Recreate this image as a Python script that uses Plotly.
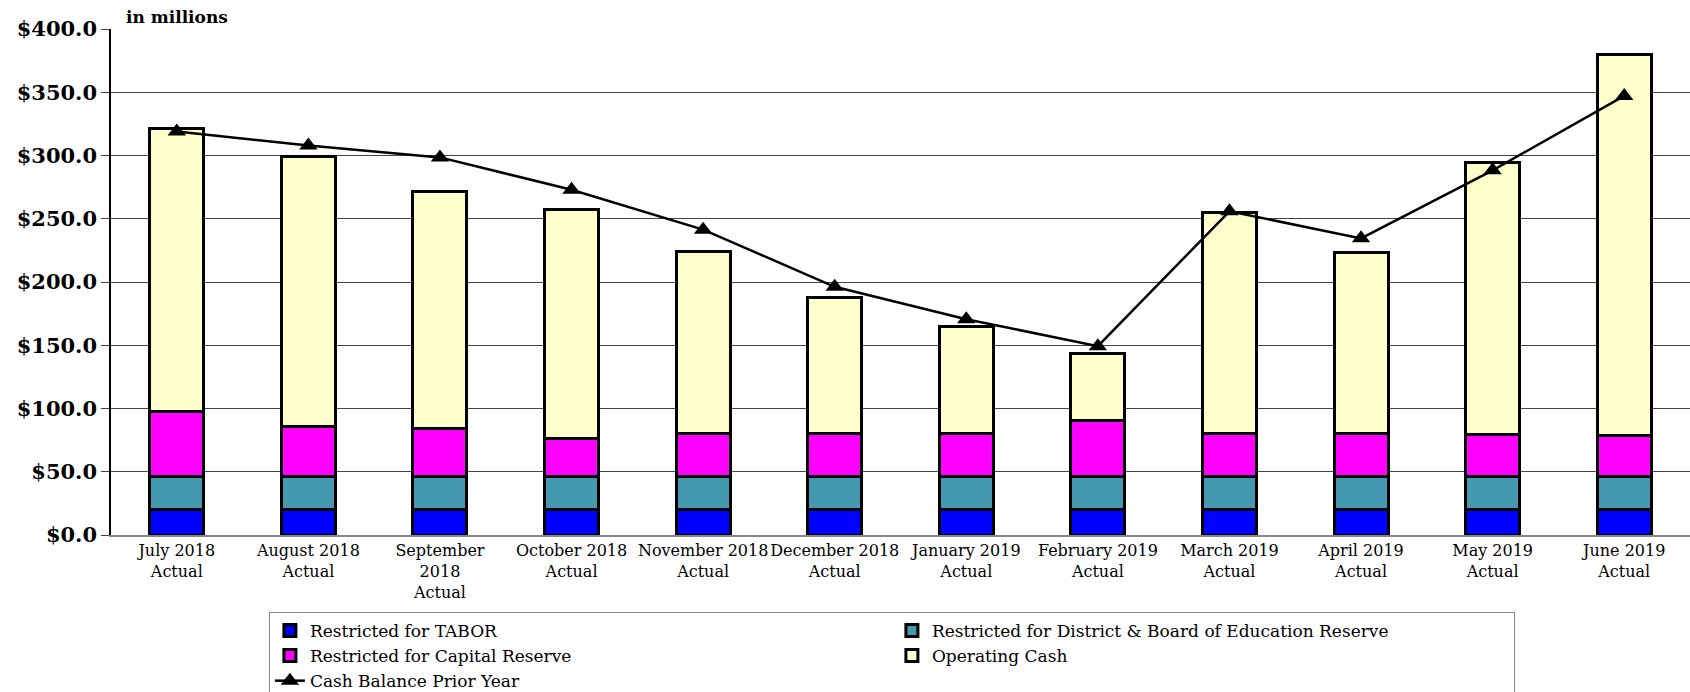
import plotly.graph_objects as go

categories = ["July 2018<br>Actual", "August 2018<br>Actual", "September<br>2018<br>Actual",
              "October 2018<br>Actual", "November 2018<br>Actual", "December 2018<br>Actual",
              "January 2019<br>Actual", "February 2019<br>Actual", "March 2019<br>Actual",
              "April 2019<br>Actual", "May 2019<br>Actual", "June 2019<br>Actual"]

tabor = [20.0] * 12
district = [26.5] * 12
capital = [51.5, 39.6, 37.9, 29.4, 33.7, 33.7, 33.7, 43.9, 33.7, 33.7, 32.8, 32.0]
operating = [223.5, 213.3, 186.8, 181.7, 144.1, 107.4, 84.4, 52.9, 174.8, 143.3, 214.9, 301.0]
prior_year = [319.0, 307.9, 298.5, 272.9, 241.4, 196.2, 170.6, 149.3, 255.9, 234.5, 288.3, 347.1]

y_ticks = [0, 50, 100, 150, 200, 250, 300, 350, 400]
y_tick_labels = ["$0.0", "$50.0", "$100.0", "$150.0", "$200.0", "$250.0", "$300.0", "$350.0", "$400.0"]

FONT = "DejaVu Serif"
x_idx = list(range(len(categories)))

fig = go.Figure()
for name, vals, col in [
    ("Restricted for TABOR", tabor, "#0000FF"),
    ("Restricted for District & Board of Education Reserve", district, "#4499B0"),
    ("Restricted for Capital Reserve", capital, "#FF00FF"),
    ("Operating Cash", operating, "#FFFFCC"),
]:
    fig.add_trace(go.Bar(x=x_idx, y=vals, name=name, width=0.41,
                         marker=dict(color=col, line=dict(color="black", width=3))))

fig.add_trace(go.Scatter(x=x_idx, y=prior_year, name="Cash Balance Prior Year", mode="lines+markers",
                         line=dict(color="black", width=2.5),
                         marker=dict(symbol="triangle-up", size=16, color="black")))

fig.update_layout(
    barmode="stack",
    width=1690, height=692,
    margin=dict(l=111, r=0, t=29, b=157, autoexpand=False),
    plot_bgcolor="white", paper_bgcolor="white",
    font=dict(family=FONT, color="black"),
    showlegend=True,
    legend=dict(orientation="h", x=0.1, xanchor="left", y=-0.152, yanchor="top",
                font=dict(family=FONT, size=17, color="black"),
                bordercolor="#888888", borderwidth=1, entrywidth=577, entrywidthmode="pixels",
                traceorder="normal", tracegroupgap=0, itemwidth=30),
)
fig.update_xaxes(tickmode="array", tickvals=x_idx, ticktext=categories, range=[-0.5, 11.5],
                 tickangle=0,
                 showline=True, linecolor="#888888", linewidth=1.5, showgrid=False,
                 tickfont=dict(family=FONT, size=16, color="black"), ticks="")
fig.update_yaxes(range=[0, 400], tickmode="array", tickvals=y_ticks, ticktext=y_tick_labels,
                 showgrid=True, gridcolor="#444444", gridwidth=1,
                 showline=True, linecolor="black", linewidth=1.5,
                 ticks="outside", ticklen=8, tickcolor="#444444",
                 tickfont=dict(family=FONT, size=21, color="black", weight="bold"), zeroline=False)

fig.add_annotation(text="in millions", xref="paper", yref="paper", x=(124 - 111) / 1579, y=1.0,
                   xanchor="left", yanchor="bottom", showarrow=False, yshift=0,
                   font=dict(family=FONT, size=17, color="black", weight="bold"))

fig.write_html("out.html")
